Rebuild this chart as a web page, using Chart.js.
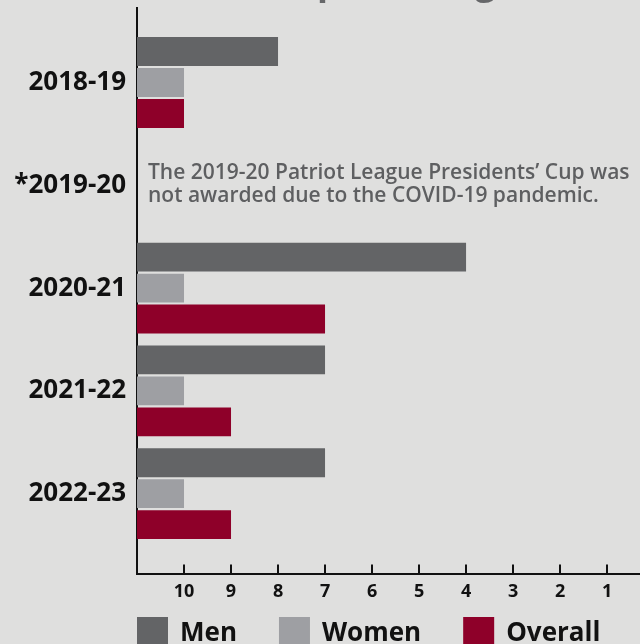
<!DOCTYPE html>
<html lang="en">
<head>
    <meta charset="UTF-8"/>
    <title>Presidents' Cup Rankings</title>
    <script src="https://cdn.jsdelivr.net/npm/chart.js"></script>
    <style>
        html, body {
            margin: 0;
            padding: 0;
            background-color: #dfdfde;
            width: 640px;
            height: 644px;
            overflow: hidden;
        }
        .canvas-wrapper {
            position: relative;
            width: 640px;
            height: 644px;
        }
    </style>
</head>
<body>
<div class="canvas-wrapper">
    <canvas id="cupChart"></canvas>
</div>

<script>
    // seasons, top to bottom
    const seasons = ['2018-19', '*2019-20', '2020-21', '2021-22', '2022-23'];
    // finishing place (1 = best), null = not awarded
    const menRank = [8, null, 4, 7, 7];
    const womenRank = [10, null, 10, 10, 10];
    const overallRank = [10, null, 7, 9, 9];
    const xTicks = [10, 9, 8, 7, 6, 5, 4, 3, 2, 1];
    const noteLines = [
        'The 2019-20 Patriot League Presidents\u2019 Cup was',
        'not awarded due to the COVID-19 pandemic.'
    ];
    const titleText = 'Presidents\u2019 Cup Rankings';

    const FONT = "'Open Sans', 'Noto Sans', sans-serif";
    const toPoints = arr => arr.map((v, i) => ({ y: i, x: v }));

    // note text, legend and the clipped title
    const extrasPlugin = {
        id: 'extras',
        afterDraw(chart) {
            const { ctx, chartArea, scales } = chart;
            ctx.save();

            // title (only descenders visible above the canvas)
            ctx.font = `700 36px ${FONT}`;
            ctx.fillStyle = '#666769';
            ctx.textBaseline = 'alphabetic';
            ctx.textAlign = 'left';
            const preW = ctx.measureText('Presidents\u2019 Cu').width;
            ctx.fillText(titleText, 317 - preW, -6);

            // covid note
            const yMid = scales.y.getPixelForValue(1);
            ctx.font = `600 21px ${FONT}`;
            ctx.fillStyle = '#5e5f61';
            ctx.fillText(noteLines[0], chartArea.left + 11, yMid - 6);
            ctx.fillText(noteLines[1], chartArea.left + 11, yMid + 17);

            // legend
            ctx.font = `700 26px ${FONT}`;
            let x = chartArea.left;
            chart.data.datasets.forEach(ds => {
                ctx.fillStyle = ds.backgroundColor;
                ctx.fillRect(x, 617, 31, 31);
                ctx.fillStyle = '#111';
                ctx.fillText(ds.label, x + 43, 641);
                x += 43 + ctx.measureText(ds.label).width + 42;
            });
            ctx.restore();
        }
    };

    const ctx = document.getElementById('cupChart').getContext('2d');
    new Chart(ctx, {
        type: 'bar',
        data: {
            datasets: [
                { label: 'Men', data: toPoints(menRank), backgroundColor: '#636466' },
                { label: 'Women', data: toPoints(womenRank), backgroundColor: '#9e9fa3' },
                { label: 'Overall', data: toPoints(overallRank), backgroundColor: '#8e0029' }
            ]
        },
        options: {
            indexAxis: 'y',
            responsive: true,
            maintainAspectRatio: false,
            animation: false,
            datasets: {
                bar: {
                    base: 11,
                    categoryPercentage: 0.905,
                    barPercentage: 0.935
                }
            },
            layout: { padding: { top: 8, right: 0, bottom: 24, left: 0 } },
            scales: {
                x: {
                    type: 'linear',
                    reverse: true,
                    min: 0.3,
                    max: 11,
                    afterBuildTicks: s => { s.ticks = xTicks.map(v => ({ value: v })); },
                    grid: { drawOnChartArea: false, drawTicks: true, tickLength: -10, color: '#111', lineWidth: 2 },
                    border: { display: true, color: '#111', width: 2 },
                    ticks: {
                        color: '#111',
                        padding: 17,
                        autoSkip: false,
                        maxRotation: 0,
                        font: { family: FONT, size: 18, weight: '700' }
                    }
                },
                y: {
                    type: 'linear',
                    reverse: true,
                    offset: false,
                    min: -0.726,
                    max: 4.786,
                    afterBuildTicks: s => { s.ticks = seasons.map((_, i) => ({ value: i })); },
                    afterFit: s => {
                        s.width = 137;
                        s.paddingTop = 0;
                        s.paddingBottom = 0;
                    },
                    grid: { display: false },
                    border: { display: true, color: '#111', width: 2 },
                    ticks: {
                        color: '#111',
                        padding: 3,
                        callback: v => seasons[v],
                        font: { family: FONT, size: 26, weight: '700' }
                    }
                }
            },
            plugins: {
                legend: { display: false },
                tooltip: { enabled: false }
            }
        },
        plugins: [extrasPlugin]
    });
</script>
</body>
</html>
